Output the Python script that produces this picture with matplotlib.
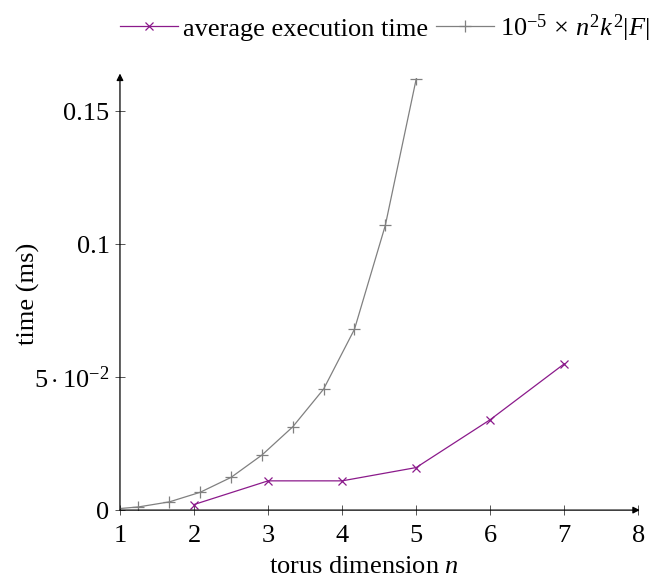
import numpy as np
import matplotlib
matplotlib.use("Agg")
import matplotlib.pyplot as plt

plt.rcParams['font.family'] = ['Liberation Serif', 'DejaVu Serif']
plt.rcParams['mathtext.fontset'] = 'custom'
plt.rcParams['mathtext.rm'] = 'Liberation Serif'
plt.rcParams['mathtext.it'] = 'Liberation Serif:italic'
plt.rcParams['font.size'] = 19

# measured average execution time
n_meas = [2, 3, 4, 5, 6, 7]
t_meas = [0.0021, 0.011, 0.011, 0.016, 0.034, 0.055]

# reference curve 1e-5 * n^2 k^2 |F| (sampled points)
n_ref = [0.833, 1.25, 1.667, 2.083, 2.5, 2.917, 3.333, 3.75, 4.167, 4.583, 5.0]
t_ref = [0.0002, 0.0012, 0.0031, 0.0067, 0.0123, 0.0207, 0.0313, 0.0455, 0.068, 0.107, 0.162]

xticks = [1, 2, 3, 4, 5, 6, 7, 8]
yticks = [0, 0.05, 0.1, 0.15]
ytick_labels = ["0", r"$5\cdot10^{-2}$", "0.1", "0.15"]

purple = "#8b1a8b"
grey = "#808080"

fig = plt.figure(figsize=(6.52, 5.81), dpi=100)
ax = fig.add_axes([0.184, 0.122, 0.795, 0.744])

ax.plot(n_meas, t_meas, color=purple, lw=0.9, marker='x', ms=6, mew=0.9,
        label="average execution time")
ax.plot(n_ref, t_ref, color=grey, lw=0.9, marker='+', ms=9, mew=0.9,
        label=r"$10^{-5}\,\times\,n^2k^2|F|$")

ax.set_xlim(1, 8)
ax.set_ylim(0, 0.1625)
ax.set_xticks(xticks)
ax.set_yticks(yticks)
ax.set_yticklabels(ytick_labels)
ax.tick_params(direction='inout', length=7, width=0.7, color='#555555')
ax.tick_params(axis='x', pad=7)
ax.tick_params(axis='y', pad=4)

for s in ax.spines.values():
    s.set_visible(False)

# axis lines with arrow heads
ax.annotate('', xy=(1.003, 0), xytext=(0, 0), xycoords='axes fraction',
            arrowprops=dict(arrowstyle='-|>', color='black', lw=0.9,
                            mutation_scale=10, shrinkA=0, shrinkB=0))
ax.annotate('', xy=(0, 1.01), xytext=(0, 0), xycoords='axes fraction',
            arrowprops=dict(arrowstyle='-|>', color='black', lw=0.9,
                            mutation_scale=10, shrinkA=0, shrinkB=0))

ax.set_xlabel(r"torus dimension $n$")
ax.xaxis.set_label_coords(0.471, -0.105)
ax.set_ylabel("time (ms)")
ax.yaxis.set_label_coords(-0.155, 0.5)

fig.legend(loc='center right', bbox_to_anchor=(1.0, 0.952), ncol=2, frameon=False,
           borderpad=0.1, borderaxespad=0,
           handlelength=2.2, handletextpad=0.2, columnspacing=0.3, fontsize=19)

fig.savefig("out.png", dpi=100)
